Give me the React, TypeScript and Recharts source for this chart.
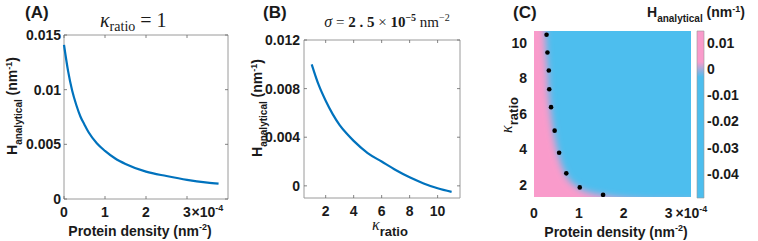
import React from 'react';
import {
  LineChart,
  Line,
  XAxis,
  YAxis,
  ReferenceArea,
  ComposedChart,
  Area,
  Scatter,
  CartesianGrid,
} from 'recharts';

// ---------- Panel A: H vs protein density (kappa_ratio = 1) ----------
const densityA = [0, 0.1, 0.2, 0.3, 0.4, 0.5, 0.6, 0.8, 1.0, 1.25, 1.5, 2.0, 2.5, 3.0, 3.5, 3.77];
const hA = [0.0141, 0.0117, 0.0099, 0.0086, 0.00755, 0.0068, 0.0061, 0.0051, 0.0044, 0.0037, 0.0032, 0.0025, 0.0021, 0.00175, 0.0015, 0.0014];
const xTicksA = [0, 1, 2, 3];
const yTicksA = [0, 0.005, 0.01, 0.015];

// ---------- Panel B: H vs kappa_ratio (sigma = 2.5e-5) ----------
const kappaB = [1, 1.5, 2, 2.5, 3, 3.5, 4, 5, 6, 7, 8, 9, 10, 11];
const hB = [0.01, 0.0083, 0.007, 0.0059, 0.005, 0.0043, 0.0037, 0.0027, 0.002, 0.0013, 0.0007, 0.0002, -0.0002, -0.0005];
const xTicksB = [2, 4, 6, 8, 10];
const yTicksB = [0, 0.004, 0.008, 0.012];

// ---------- Panel C: map, H = 0 contour and marked points ----------
const boundarySigma = [-0.3, 0.1, 0.18, 0.22, 0.25, 0.27, 0.3, 0.32, 0.36, 0.43, 0.53, 0.69, 0.98, 1.45, 2.1, 3.0, 4.0];
const boundaryKappa = [30, 20, 13.5, 11.3, 10.45, 9.45, 8.44, 7.39, 6.38, 5.06, 3.82, 2.66, 1.87, 1.45, 1.22, 1.1, 1.05];
const dotSigma = [0.28, 0.3, 0.33, 0.34, 0.38, 0.46, 0.56, 0.72, 1.02, 1.54];
const dotKappa = [10.45, 9.45, 8.44, 7.39, 6.38, 5.06, 3.82, 2.66, 1.87, 1.45];
const xTicksC = [0, 1, 2, 3];
const yTicksC = [2, 4, 6, 8, 10];

// ---------- Colorbar ----------
const cbMin = -0.0492;
const cbMax = 0.0145;
const cbTicks = [0.01, 0, -0.01, -0.02, -0.03, -0.04];

const dataA = densityA.map((d, i) => ({ d, h: hA[i] }));
const dataB = kappaB.map((k, i) => ({ k, h: hB[i] }));
const dataBoundary = boundarySigma.map((s, i) => ({ s, k: boundaryKappa[i] }));
const dataDots = dotSigma.map((s, i) => ({ s, k: dotKappa[i] }));
const dataCb = [
  { x: 0, top: cbMax },
  { x: 1, top: cbMax },
];

const W = 758;
const HGT = 241;
const PINK = '#F99BCB';
const BLUE = '#4DBEEE';
const LINE = '#0072BD';
const TXT = '#1a1a1a';
const FRAME = '#9a9a9a';

const A = { l: 64, r: 228, t: 35, b: 199 };
const B = { l: 304, r: 460, t: 40, b: 198 };
const C = { l: 534, r: 691, t: 31, b: 197 };
const CB = { l: 697, r: 704, t: 31, b: 197 };

const tickFont: React.CSSProperties = {
  fontFamily: '"Liberation Sans", Arial, sans-serif',
  fontWeight: 700,
  fontSize: 14,
  fill: TXT,
};

type Rect = { l: number; r: number; t: number; b: number };

// axes are given 1px of room (Recharts skips axes of zero size)
function marginOf(r: Rect, yRight = false) {
  return {
    left: yRight ? r.l : r.l - 1,
    right: yRight ? W - r.r - 1 : W - r.r,
    top: r.t,
    bottom: HGT - r.b - 1,
  };
}

function makeXTick(rect: Rect, labelY: number, inward: boolean, expo?: { value: number; dx: number; sup: string }) {
  return (props: any) => {
    const { x, payload } = props;
    const v = payload.value;
    return (
      <g>
        {inward && <line x1={x} x2={x} y1={rect.b} y2={rect.b - 3} stroke="#666" strokeWidth={0.8} />}
        {inward && <line x1={x} x2={x} y1={rect.t} y2={rect.t + 3} stroke="#666" strokeWidth={0.8} />}
        <text x={x} y={labelY} textAnchor="middle" style={tickFont}>
          {String(v)}
        </text>
        {expo && v === expo.value && (
          <text x={x + expo.dx} y={labelY} textAnchor="start" style={tickFont}>
            ×10
            <tspan fontSize={9} dy={-6}>
              {expo.sup}
            </tspan>
          </text>
        )}
      </g>
    );
  };
}

function makeYTick(rect: Rect, labelX: number, inward: boolean, anchor: 'end' | 'start' = 'end') {
  return (props: any) => {
    const { y, payload } = props;
    const v = payload.value;
    return (
      <g>
        {inward && <line x1={rect.l} x2={rect.l + 3} y1={y} y2={y} stroke="#666" strokeWidth={0.8} />}
        {inward && <line x1={rect.r} x2={rect.r - 3} y1={y} y2={y} stroke="#666" strokeWidth={0.8} />}
        <text x={labelX} y={y + 5} textAnchor={anchor} style={tickFont}>
          {String(v)}
        </text>
      </g>
    );
  };
}

const abs: React.CSSProperties = { position: 'absolute', left: 0, top: 0 };

const sansBold = '"Liberation Sans", Arial, sans-serif';
const serif = '"Liberation Serif", "Times New Roman", serif';

function Labels() {
  return (
    <svg width={W} height={HGT} style={{ ...abs, pointerEvents: 'none' }}>
      {/* panel letters */}
      <g fontFamily={sansBold} fontWeight={700} fontSize={17} fill={TXT}>
        <text x={25} y={18}>(A)</text>
        <text x={263} y={18}>(B)</text>
        <text x={513} y={18}>(C)</text>
      </g>
      {/* title A */}
      <text x={100} y={27} fontFamily={serif} fill={TXT}>
        <tspan fontStyle="italic" fontSize={20}>κ</tspan>
        <tspan fontSize={14} dy={4}>ratio</tspan>
        <tspan fontSize={20} dy={-4}> = 1</tspan>
      </text>
      {/* title B */}
      <text x={387} y={27} textAnchor="middle" fontFamily={serif} fill={TXT} fontSize={15}>
        <tspan fontStyle="italic" fontSize={16}>σ</tspan>
        <tspan> = </tspan>
        <tspan fontWeight={700}>2 . 5</tspan>
        <tspan> × </tspan>
        <tspan fontWeight={700}>10</tspan>
        <tspan fontWeight={700} fontSize={10} dy={-6}>−5</tspan>
        <tspan dy={6}> nm</tspan>
        <tspan fontSize={10} dy={-6}>−2</tspan>
      </text>
      {/* y label A */}
      <text transform="translate(17,106) rotate(-90)" textAnchor="middle" fontFamily={sansBold} fontWeight={700} fill={TXT} fontSize={14}>
        <tspan>H</tspan>
        <tspan fontSize={10} dy={5}>analytical</tspan>
        <tspan dy={-5}> (nm</tspan>
        <tspan fontSize={9} dy={-5}>-1</tspan>
        <tspan dy={5}>)</tspan>
      </text>
      {/* y label B */}
      <text transform="translate(262,108) rotate(-90)" textAnchor="middle" fontFamily={sansBold} fontWeight={700} fill={TXT} fontSize={14}>
        <tspan>H</tspan>
        <tspan fontSize={10} dy={5}>analytical</tspan>
        <tspan dy={-5}> (nm</tspan>
        <tspan fontSize={9} dy={-5}>-1</tspan>
        <tspan dy={5}>)</tspan>
      </text>
      {/* x label A */}
      <text x={140} y={236} textAnchor="middle" fontFamily={sansBold} fontWeight={700} fill={TXT} fontSize={14}>
        Protein density (nm
        <tspan fontSize={9} dy={-6}>-2</tspan>
        <tspan dy={6}>)</tspan>
      </text>
      {/* x label B */}
      <text x={372} y={230} fill={TXT}>
        <tspan fontFamily={serif} fontStyle="italic" fontSize={16}>κ</tspan>
        <tspan fontFamily={sansBold} fontWeight={700} fontSize={13} dy={6}>ratio</tspan>
      </text>
      {/* y label C */}
      <text transform="translate(512,115) rotate(-90)" textAnchor="middle" fill={TXT}>
        <tspan fontFamily={serif} fontStyle="italic" fontSize={16}>κ</tspan>
        <tspan fontFamily={sansBold} fontWeight={700} fontSize={13} dy={6}>ratio</tspan>
      </text>
      {/* x label C */}
      <text x={616} y={237} textAnchor="middle" fontFamily={sansBold} fontWeight={700} fill={TXT} fontSize={14}>
        Protein density (nm
        <tspan fontSize={9} dy={-6}>-2</tspan>
        <tspan dy={6}>)</tspan>
      </text>
      {/* colorbar title */}
      <text x={647} y={17} fontFamily={sansBold} fontWeight={700} fill={TXT} fontSize={14}>
        <tspan>H</tspan>
        <tspan fontSize={10} dy={5}>analytical</tspan>
        <tspan dy={-5}> (nm</tspan>
        <tspan fontSize={9} dy={-5}>-1</tspan>
        <tspan dy={5}>)</tspan>
      </text>
    </svg>
  );
}

export default function App() {
  return (
    <div style={{ position: 'fixed', left: 0, top: 0, width: W, height: HGT, background: '#fff' }}>
      <style>{`.pinkArea path { filter: url(#blurC); }`}</style>
      <svg width={0} height={0} style={{ position: 'absolute' }}>
        <defs>
          <filter id="blurC" x="-20%" y="-20%" width="140%" height="140%">
            <feGaussianBlur stdDeviation={3.5} />
          </filter>
          <linearGradient id="cbGrad" x1="0" y1="0" x2="0" y2="1">
            <stop offset="0" stopColor={PINK} />
            <stop offset="0.185" stopColor={PINK} />
            <stop offset="0.275" stopColor={BLUE} />
            <stop offset="1" stopColor={BLUE} />
          </linearGradient>
        </defs>
      </svg>

      {/* Panel A */}
      <div style={abs}>
        <LineChart width={W} height={HGT} data={dataA} margin={marginOf(A)}>
          <XAxis
            dataKey="d"
            type="number"
            domain={[0, 4]}
            ticks={xTicksA}
            height={1}
            axisLine={false}
            tickLine={false}
            tick={makeXTick(A, 217, true, { value: 3, dx: 4.5, sup: '-4' })}
            interval={0}
          />
          <YAxis
            type="number"
            domain={[0, 0.015]}
            ticks={yTicksA}
            width={1}
            axisLine={false}
            tickLine={false}
            tick={makeYTick(A, 61, true)}
            interval={0}
          />
          <ReferenceArea x1={0} x2={4} y1={0} y2={0.015} fill="none" stroke={FRAME} strokeWidth={1} />
          <Line dataKey="h" type="monotone" stroke={LINE} strokeWidth={2.2} dot={false} isAnimationActive={false} />
        </LineChart>
      </div>

      {/* Panel B */}
      <div style={abs}>
        <LineChart width={W} height={HGT} data={dataB} margin={marginOf(B)}>
          <XAxis
            dataKey="k"
            type="number"
            domain={[0.45, 11.6]}
            ticks={xTicksB}
            height={1}
            axisLine={false}
            tickLine={false}
            tick={makeXTick(B, 216, true)}
            interval={0}
          />
          <YAxis
            type="number"
            domain={[-0.001, 0.012]}
            ticks={yTicksB}
            width={1}
            axisLine={false}
            tickLine={false}
            tick={makeYTick(B, 300, true)}
            interval={0}
          />
          <ReferenceArea x1={0.45} x2={11.6} y1={-0.001} y2={0.012} fill="none" stroke={FRAME} strokeWidth={1} />
          <Line dataKey="h" type="monotone" stroke={LINE} strokeWidth={2.2} dot={false} isAnimationActive={false} />
        </LineChart>
      </div>

      {/* Panel C */}
      <div style={abs}>
        <ComposedChart width={W} height={HGT} data={dataBoundary} margin={marginOf(C)}>
          <CartesianGrid horizontal={false} vertical={false} fill={BLUE} stroke="none" />
          <XAxis
            dataKey="s"
            type="number"
            domain={[0, 3.5]}
            allowDataOverflow
            ticks={xTicksC}
            height={1}
            axisLine={false}
            tickLine={false}
            tick={makeXTick(C, 218, false, { value: 3, dx: 7, sup: '-4' })}
            interval={0}
          />
          <YAxis
            dataKey="k"
            type="number"
            domain={[1.33, 10.66]}
            allowDataOverflow
            ticks={yTicksC}
            width={1}
            axisLine={false}
            tickLine={false}
            tick={makeYTick(C, 527, false)}
            interval={0}
          />
          <Area
            className="pinkArea"
            dataKey="k"
            type="monotone"
            baseValue={0}
            fill={PINK}
            fillOpacity={1}
            stroke="none"
            isAnimationActive={false}
          />
          <Scatter
            data={dataDots}
            dataKey="k"
            fill="#000"
            isAnimationActive={false}
            shape={(p: any) => <circle cx={p.cx} cy={p.cy} r={2.3} fill="#000" />}
          />
        </ComposedChart>
      </div>

      {/* Colorbar */}
      <div style={abs}>
        <ComposedChart width={W} height={HGT} data={dataCb} margin={marginOf(CB, true)}>
          <XAxis dataKey="x" type="number" domain={[0, 1]} hide />
          <YAxis
            type="number"
            orientation="right"
            domain={[cbMin, cbMax]}
            allowDataOverflow
            ticks={cbTicks}
            width={1}
            axisLine={false}
            tickLine={false}
            tick={makeYTick({ l: CB.r, r: CB.r, t: CB.t, b: CB.b }, 707, false, 'start')}
            interval={0}
          />
          <Area
            dataKey="top"
            type="linear"
            baseValue={cbMin}
            fill="url(#cbGrad)"
            fillOpacity={1}
            stroke="none"
            isAnimationActive={false}
          />
          <ReferenceArea x1={0} x2={1} y1={cbMin} y2={cbMax} fill="none" stroke="#999" strokeWidth={0.6} />
        </ComposedChart>
      </div>

      <Labels />
    </div>
  );
}
